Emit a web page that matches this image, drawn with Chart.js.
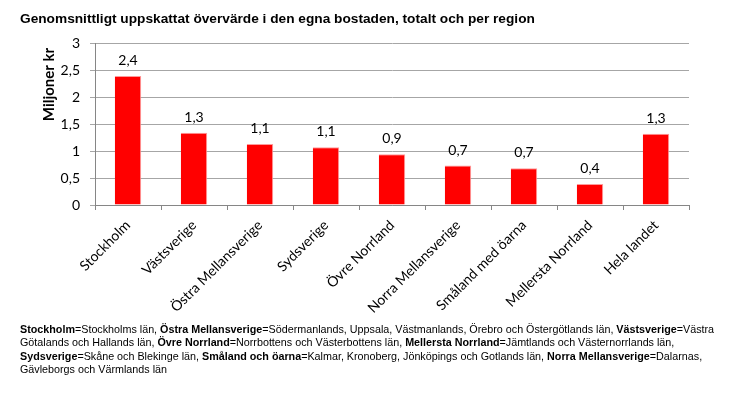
<!DOCTYPE html>
<html>
<head>
<meta charset="utf-8">
<script src="https://cdn.jsdelivr.net/npm/chart.js@4/dist/chart.umd.min.js"></script>
<style>
  html, body { margin: 0; padding: 0; background: #fff; }
  #wrap { position: relative; width: 729px; height: 396px; overflow: hidden; }
  #c { position: absolute; left: 0; top: 0; }
  #note { position: absolute; left: 20px; top: 323px; width: 709px; font-family: "Liberation Sans", Arial, sans-serif; font-size: 10.75px; line-height: 13.4px; color: #000; white-space: nowrap; }
</style>
</head>
<body>
<div id="wrap">
<canvas id="c" width="729" height="396"></canvas>
<div id="note">
<b>Stockholm</b>=Stockholms län, <b>Östra Mellansverige</b>=Södermanlands, Uppsala, Västmanlands, Örebro och Östergötlands län, <b>Västsverige</b>=Västra<br>
Götalands och Hallands län, <b>Övre Norrland</b>=Norrbottens och Västerbottens län, <b>Mellersta Norrland</b>=Jämtlands och Västernorrlands län,<br>
<b>Sydsverige</b>=Skåne och Blekinge län, <b>Småland och öarna</b>=Kalmar, Kronoberg, Jönköpings och Gotlands län, <b>Norra Mellansverige</b>=Dalarnas,<br>
Gävleborgs och Värmlands län
</div>
</div>
<script>
const title = "Genomsnittligt uppskattat övervärde i den egna bostaden, totalt och per region";
const yTitle = "Miljoner kr";
const categories = ["Stockholm", "Västsverige", "Östra Mellansverige", "Sydsverige", "Övre Norrland", "Norra Mellansverige", "Småland med öarna", "Mellersta Norrland", "Hela landet"];
const values = [2.39, 1.34, 1.13, 1.07, 0.94, 0.73, 0.68, 0.39, 1.32];
const valueLabels = ["2,4", "1,3", "1,1", "1,1", "0,9", "0,7", "0,7", "0,4", "1,3"];
const yTicks = [0, 0.5, 1, 1.5, 2, 2.5, 3];

const fmt = v => String(v).replace('.', ',');
const TICK_FONT = { family: "Lato, 'Open Sans', sans-serif", size: 14 };

const overlay = {
  id: 'overlay',
  afterDatasetsDraw(chart) {
    const ctx = chart.ctx;
    ctx.save();
    ctx.fillStyle = '#000';
    ctx.font = "14px Lato, 'Open Sans', sans-serif";
    ctx.textAlign = 'center';
    ctx.textBaseline = 'alphabetic';
    const meta = chart.getDatasetMeta(0);
    meta.data.forEach((bar, i) => {
      ctx.fillText(valueLabels[i], bar.x, bar.y - 11);
    });
    ctx.font = "bold 13.7px 'Liberation Sans', Arial, sans-serif";
    ctx.textAlign = 'left';
    ctx.fillText(title, 20, 23);
    ctx.translate(54, 84.5);
    ctx.rotate(-Math.PI / 2);
    ctx.font = "bold 15px Lato, 'Open Sans', sans-serif";
    ctx.textAlign = 'center';
    ctx.fillText(yTitle, 0, 0);
    ctx.restore();
  }
};

new Chart(document.getElementById('c'), {
  type: 'bar',
  data: {
    labels: categories,
    datasets: [{
      data: values,
      backgroundColor: '#ff0000',
      borderColor: '#ff9a9a',
      borderWidth: { top: 1, right: 1, left: 0, bottom: 0 },
      barPercentage: 0.4,
      categoryPercentage: 1
    }]
  },
  options: {
    responsive: false,
    animation: false,
    events: [],
    layout: { padding: { left: 0, right: 40, top: 43, bottom: 0 } },
    plugins: { legend: { display: false }, tooltip: { enabled: false }, title: { display: false } },
    scales: {
      x: {
        offset: true,
        grid: { display: true, drawOnChartArea: false, offset: true, tickLength: 5, color: '#868686' },
        border: { color: '#868686', width: 1 },
        ticks: { minRotation: 45, maxRotation: 45, autoSkip: false, color: '#000', font: TICK_FONT, padding: 7 },
        afterFit(scale) { scale.height = 191; }
      },
      y: {
        min: 0, max: 3,
        afterBuildTicks(scale) { scale.ticks = yTicks.map(v => ({ value: v })); },
        grid: { color: '#a6a6a6', tickLength: 5, drawTicks: true },
        border: { color: '#868686', width: 1 },
        ticks: { color: '#000', font: TICK_FONT, padding: 10, callback: v => fmt(v) },
        afterFit(scale) { scale.width = 95; }
      }
    }
  },
  plugins: [overlay]
});
</script>
</body>
</html>
